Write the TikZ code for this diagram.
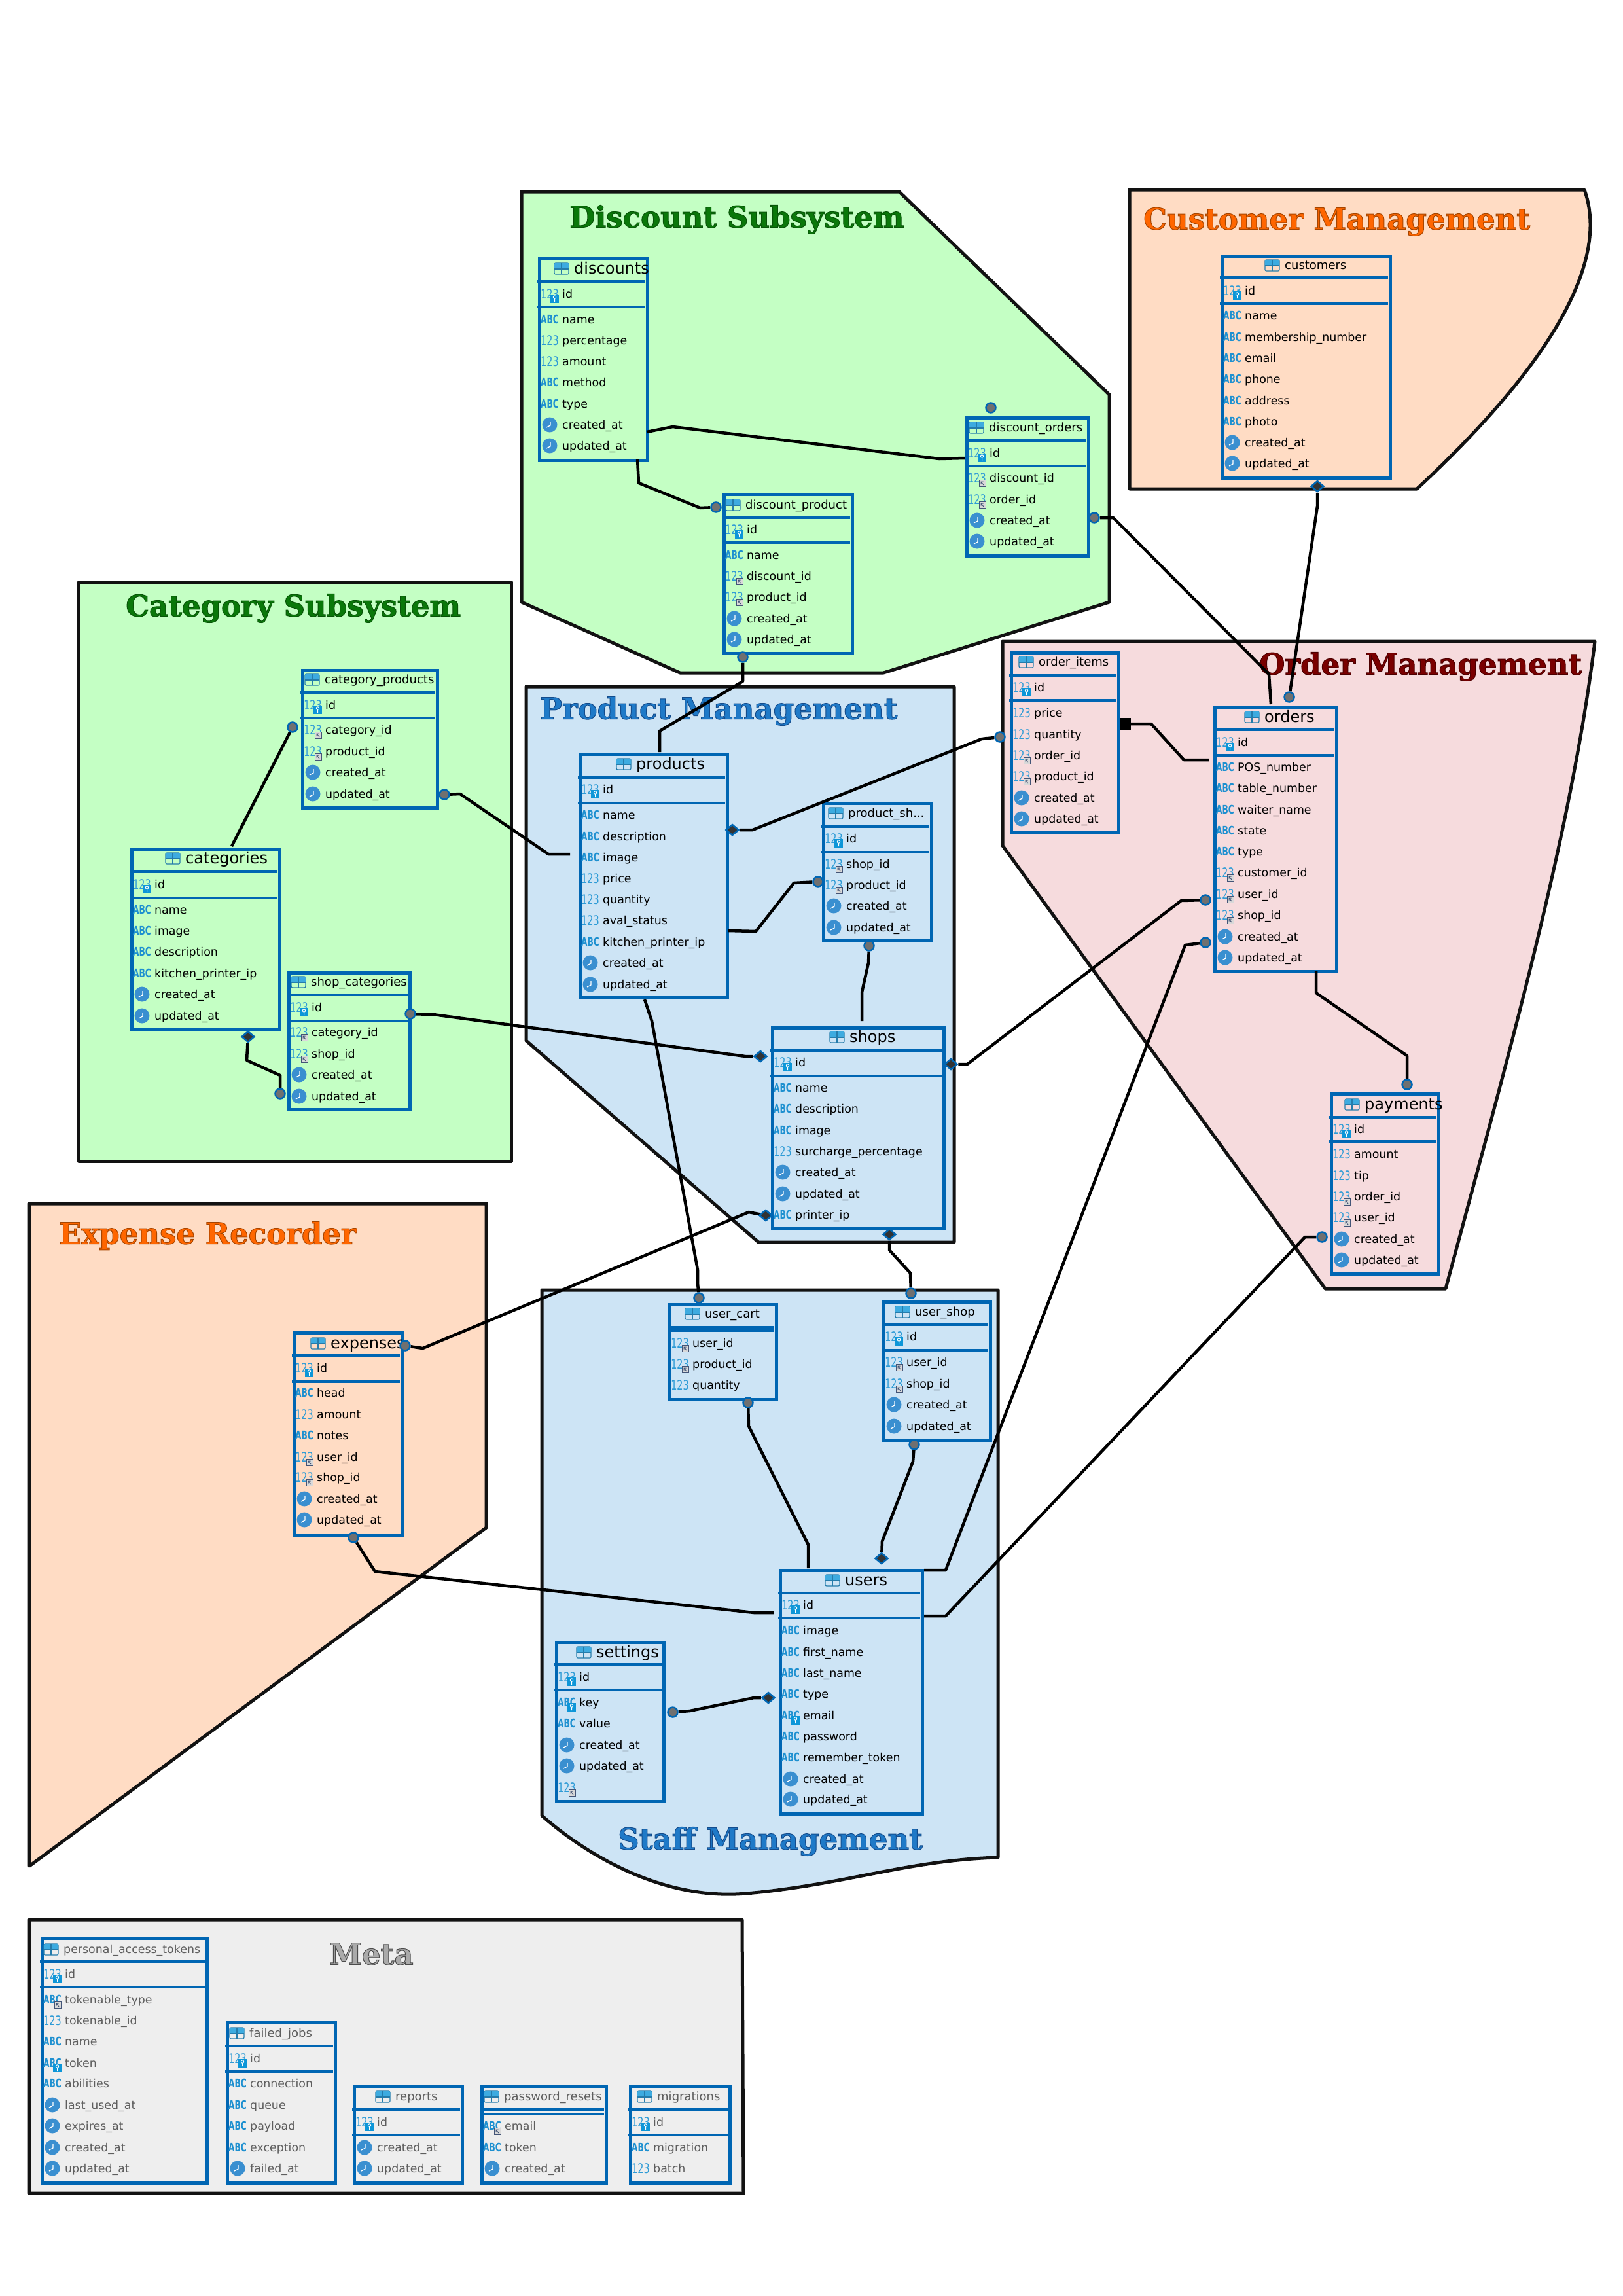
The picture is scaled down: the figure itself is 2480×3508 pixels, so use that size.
\documentclass[tikz,border=0pt]{standalone}
\usepackage{fontspec}
\usepackage{graphicx}
\usetikzlibrary{shapes.geometric}
\setmainfont{DejaVu Sans}
\newfontfamily\ttlfont{DejaVu Serif}
\pgfdeclarelayer{dots}
\pgfsetlayers{main,dots}
\definecolor{grnfill}{HTML}{C4FFC4}
\definecolor{grntxt}{HTML}{0A780A}
\definecolor{orgfill}{HTML}{FFDCC4}
\definecolor{orgtxt}{HTML}{FF6600}
\definecolor{blufill}{HTML}{CDE4F5}
\definecolor{blutxt}{HTML}{1F7AC8}
\definecolor{pnkfill}{HTML}{F6DBDD}
\definecolor{pnktxt}{HTML}{7A0000}
\definecolor{gryfill}{HTML}{EEEEEE}
\definecolor{grytxt}{HTML}{AAAAAA}
\definecolor{tblblue}{HTML}{0066B3}
\definecolor{numblue}{HTML}{2E9BD6}
\definecolor{abcblue}{HTML}{1E90D0}
\definecolor{clkblue}{HTML}{3A8FD0}
\definecolor{keyblue}{HTML}{0D96D8}
\definecolor{dotgray}{HTML}{707070}
\definecolor{metatext}{HTML}{5E5E5E}
\definecolor{fkline}{HTML}{445577}
\tikzset{
  grp/.style={draw=black!93,line width=5pt,line join=round},
  ttl/.style={anchor=base west,inner sep=0pt,yshift=1.5pt,font=\ttlfont\bfseries\fontsize{45}{45}\selectfont},
  tbl/.style={draw=tblblue,line width=5pt,inner sep=0pt,rectangle},
  tbldiv/.style={draw=tblblue,line width=4pt},
  rowtext/.style={anchor=base west,inner sep=0pt,font=\fontsize{17.4}{18}\selectfont},
  numico/.style={anchor=base,inner sep=0pt,text=numblue,font=\fontsize{20}{20}\selectfont},
  abcico/.style={anchor=base,inner sep=0pt,text=abcblue,font=\bfseries\fontsize{18}{18}\selectfont},
  conn/.style={draw=black,line width=4.5pt,line join=round},
  cdot/.style={circle,fill=dotgray,draw=tblblue,line width=2.5pt,minimum size=15pt,inner sep=0pt},
  ddot/.style={diamond,fill=black!80,draw=tblblue,line width=2.5pt,minimum width=20pt,minimum height=17pt,inner sep=0pt},
  sdot/.style={rectangle,fill=black,minimum width=16pt,minimum height=18pt,inner sep=0pt},
}
\newcommand{\otext}[2]{\special{pdf:code 2 Tr 1 w #1 RG}#2}
\newcommand{\dbtbl}[7]{% name,x1,x2,y1,y2,d1,d2
  \node[tbl,minimum width={#3-#2-2},minimum height={#5-#4-2},anchor=north west,name=#1] at (#2+1,#4+0.5) {};
  \draw[tbldiv] (#2,#6) -- (#3-2,#6);
  \draw[tbldiv] (#2,#7) -- (#3-2,#7);
}
\newcommand{\dbtitle}[5]{% name,textx,y,size,text
  \draw[draw=numblue!80!black,line width=1.2pt,rounded corners=2pt] (#2-30,#3-8) rectangle (#2-8,#3+9);
  \fill[keyblue!80!white,rounded corners=1pt] (#2-30,#3-8) rectangle (#2-8,#3+1);
  \draw[numblue!80!black,line width=1.2pt] (#2-30,#3+1) -- (#2-8,#3+1) (#2-19,#3-8) -- (#2-19,#3+9);
  \node[rowtext,font=\fontsize{#4}{#4}\selectfont,name=#1-title] at (#2,#3+0.36*#4) {#5};
}
\newcommand{\numicon}[3]{\node[numico,name=#3] at (#1+19,#2+7) {\scalebox{.72}[1]{123}};}
\newcommand{\iabc}[3]{\node[abcico,name=#3] at (#1+19,#2+6.5) {\scalebox{.68}[1]{ABC}};}
\newcommand{\kmark}[2]{%
  \fill[keyblue] (#1+20,#2+1) rectangle (#1+33,#2+14);
  \draw[white,line width=1pt] (#1+26.5,#2+5) circle (2.2) (#1+26.5,#2+7) -- (#1+26.5,#2+12);
}
\newcommand{\fmark}[2]{%
  \fill[white!85!black,draw=fkline,line width=1pt] (#1+22,#2+3) rectangle (#1+32,#2+13);
  \draw[fkline,line width=1pt] (#1+25,#2+6) -- (#1+29,#2+11) (#1+25,#2+9.5) -- (#1+25,#2+6) -- (#1+28.5,#2+6);
}
\newcommand{\icok}[3]{\numicon{#1}{#2}{#3}\kmark{#1}{#2}}
\newcommand{\icof}[3]{\numicon{#1}{#2}{#3}\fmark{#1}{#2}}
\newcommand{\icoAk}[3]{\iabc{#1}{#2}{#3}\kmark{#1}{#2}}
\newcommand{\icoAf}[3]{\iabc{#1}{#2}{#3}\fmark{#1}{#2}}
\newcommand{\icoc}[3]{%
  \fill[clkblue] (#1+19,#2) circle (11.5);
  \draw[white,line width=1.2pt] (#1+20,#2-5) -- (#1+20,#2+1) -- (#1+14,#2+4);
}
\def\tpk{k}\def\tpf{f}\def\tpn{n}\def\tpa{a}\def\tpc{c}\def\tpA{A}\def\tpF{F}
\newcommand{\rows}[3]{%
  \foreach \yy/\tp/\lb [count=\nn] in {#3} {
    \ifx\tp\tpk\icok{#2}{\yy}{#1-i\nn}\fi
    \ifx\tp\tpf\icof{#2}{\yy}{#1-i\nn}\fi
    \ifx\tp\tpn\numicon{#2}{\yy}{#1-i\nn}\fi
    \ifx\tp\tpa\iabc{#2}{\yy}{#1-i\nn}\fi
    \ifx\tp\tpc\icoc{#2}{\yy}{#1-i\nn}\fi
    \ifx\tp\tpA\icoAk{#2}{\yy}{#1-i\nn}\fi
    \ifx\tp\tpF\icoAf{#2}{\yy}{#1-i\nn}\fi
    \node[rowtext,name=#1-t\nn] at (#2+38,\yy+6.5) {\lb};
  }%
}
\newcommand{\crt}{created\_at}
\newcommand{\upd}{updated\_at}
\begin{document}
\begin{tikzpicture}[x=1pt,y=-1pt]
\useasboundingbox (0,0) rectangle (2480,3508);
\fill[white] (0,0) rectangle (2480,3508);
% groups
\draw[grp,fill=grnfill] (797,293) -- (1374,293) -- (1695,603) -- (1695,920) -- (1350,1028) -- (1039,1028) -- (797,920) -- cycle;
\draw[grp,fill=orgfill] (1726,290) -- (2421,290) .. controls (2450,370) and (2420,510) .. (2165,747) -- (1726,747) -- cycle;
\draw[grp,fill=grnfill] (120,889) rectangle (781,1774);
\draw[grp,fill=blufill] (804,1049) -- (1458,1049) -- (1458,1898) -- (1159,1898) -- (804,1590) -- cycle;
\draw[grp,fill=pnkfill] (1532,980) -- (2437,980) .. controls (2400,1280) and (2300,1630) .. (2209,1969) -- (2025,1969) -- (1532,1292) -- cycle;
\draw[grp,fill=orgfill] (45,1839) -- (743,1839) -- (743,2334) -- (45,2851) -- cycle;
\draw[grp,fill=blufill] (828,1971) -- (1525,1971) -- (1525,2838) .. controls (1387,2842) and (1290,2880) .. (1140,2893) .. controls (1000,2905) and (880,2820) .. (828,2774) -- cycle;
\draw[grp,fill=gryfill] (45,2933) -- (1134,2933) -- (1136,3351) -- (45,3351) -- cycle;
% group titles
\node[ttl,text=grntxt,name=gtDiscount] at (870,349) {\otext{0.03 0.33 0.03}{Discount Subsystem}};
\node[ttl,text=orgtxt,name=gtCustomer] at (1747,352) {\otext{0.65 0.27 0}{Customer Management}};
\node[ttl,text=grntxt,name=gtCategory] at (192,943) {\otext{0.03 0.33 0.03}{Category Subsystem}};
\node[ttl,text=blutxt,name=gtProduct] at (825,1100) {\otext{0.08 0.3 0.55}{Product Management}};
\node[ttl,text=pnktxt,name=gtOrder] at (1924,1032) {\otext{0.3 0 0}{Order Management}};
\node[ttl,text=orgtxt,name=gtExpense] at (90,1902) {\otext{0.65 0.27 0}{Expense Recorder}};
\node[ttl,text=blutxt,name=gtStaff] at (944,2827) {\otext{0.08 0.3 0.55}{Staff Management}};
\node[ttl,text=grytxt,name=gtMeta] at (503,3003) {\otext{0.3 0.3 0.3}{Meta}};
% tables
\dbtbl{discounts}{821}{988}{392}{702}{430}{469}
\dbtitle{discounts}{877}{410}{24}{discounts}
\rows{discounts}{821}{449/k/id,488/a/name,520/n/percentage,552/n/amount,584/a/method,617/a/type,649/c/\crt,681/c/\upd}
\dbtbl{dorders}{1474}{1662}{635}{848}{673}{712}
\dbtitle{dorders}{1511}{653}{18}{discount\_orders}
\rows{dorders}{1474}{692/k/id,730/f/discount\_id,763/f/order\_id,795/c/\crt,827/c/\upd}
\dbtbl{dproduct}{1103}{1301}{752}{997}{791}{829}
\dbtitle{dproduct}{1139}{771}{18}{discount\_product}
\rows{dproduct}{1103}{809/k/id,848/a/name,880/f/discount\_id,912/f/product\_id,945/c/\crt,977/c/\upd}
\dbtbl{customers}{1864}{2123}{388}{729}{424}{464}
\dbtitle{customers}{1963}{405}{18}{customers}
\rows{customers}{1864}{444/k/id,482/a/name,515/a/membership\_number,547/a/email,579/a/phone,612/a/address,644/a/photo,676/c/\crt,708/c/\upd}
\dbtbl{catprod}{459}{667}{1021}{1233}{1058}{1097}
\dbtitle{catprod}{496}{1038}{18}{category\_products}
\rows{catprod}{459}{1077/k/id,1115/f/category\_id,1148/f/product\_id,1180/c/\crt,1213/c/\upd}
\dbtbl{categories}{198}{426}{1294}{1572}{1332}{1372}
\dbtitle{categories}{283}{1311}{24}{categories}
\rows{categories}{198}{1351/k/id,1390/a/name,1422/a/image,1454/a/description,1487/a/kitchen\_printer\_ip,1519/c/\crt,1552/c/\upd}
\dbtbl{shopcat}{438}{625}{1483}{1694}{1520}{1560}
\dbtitle{shopcat}{475}{1500}{18}{shop\_categories}
\rows{shopcat}{438}{1539/k/id,1577/f/category\_id,1610/f/shop\_id,1642/c/\crt,1675/c/\upd}
\dbtbl{products}{883}{1110}{1149}{1523}{1188}{1227}
\dbtitle{products}{972}{1167}{24}{products}
\rows{products}{883}{1206/k/id,1245/a/name,1278/a/description,1310/a/image,1342/n/price,1374/n/quantity,1406/n/aval\_status,1439/a/kitchen\_printer\_ip,1471/c/\crt,1504/c/\upd}
\dbtbl{prodshop}{1255}{1422}{1224}{1435}{1263}{1302}
\dbtitle{prodshop}{1296}{1242}{18}{product\_sh...}
\rows{prodshop}{1255}{1281/k/id,1320/f/shop\_id,1352/f/product\_id,1384/c/\crt,1417/c/\upd}
\dbtbl{shops}{1177}{1441}{1567}{1876}{1605}{1644}
\dbtitle{shops}{1298}{1584}{24}{shops}
\rows{shops}{1177}{1623/k/id,1662/a/name,1694/a/description,1727/a/image,1759/n/surcharge\_percentage,1791/c/\crt,1824/c/\upd,1856/a/printer\_ip}
\dbtbl{orderitems}{1542}{1708}{994}{1271}{1032}{1070}
\dbtitle{orderitems}{1587}{1011}{18}{order\_items}
\rows{orderitems}{1542}{1050/k/id,1089/n/price,1122/n/quantity,1154/f/order\_id,1186/f/product\_id,1219/c/\crt,1251/c/\upd}
\dbtbl{orders}{1853}{2041}{1078}{1483}{1115}{1154}
\dbtitle{orders}{1932}{1095}{24}{orders}
\rows{orders}{1853}{1134/k/id,1172/a/POS\_number,1204/a/table\_number,1237/a/waiter\_name,1269/a/state,1301/a/type,1333/f/customer\_id,1366/f/user\_id,1398/f/shop\_id,1431/c/\crt,1463/c/\upd}
\dbtbl{payments}{2031}{2197}{1668}{1945}{1707}{1744}
\dbtitle{payments}{2085}{1687}{24}{payments}
\rows{payments}{2031}{1725/k/id,1763/n/amount,1796/n/tip,1828/f/order\_id,1860/f/user\_id,1893/c/\crt,1925/c/\upd}
\dbtbl{usercart}{1020}{1185}{1990}{2137}{2028}{2033}
\dbtitle{usercart}{1077}{2007}{18}{user\_cart}
\rows{usercart}{1020}{2052/f/user\_id,2084/f/product\_id,2116/n/quantity}
\dbtbl{usershop}{1347}{1512}{1986}{2199}{2024}{2063}
\dbtitle{usershop}{1398}{2004}{18}{user\_shop}
\rows{usershop}{1347}{2042/k/id,2081/f/user\_id,2114/f/shop\_id,2146/c/\crt,2179/c/\upd}
\dbtbl{users}{1189}{1408}{2396}{2770}{2434}{2472}
\dbtitle{users}{1291}{2414}{24}{users}
\rows{users}{1189}{2452/k/id,2491/a/image,2524/a/first\_name,2556/a/last\_name,2588/a/type,2621/A/email,2653/a/password,2685/a/remember\_token,2718/c/\crt,2749/c/\upd}
\dbtbl{settings}{847}{1013}{2506}{2751}{2543}{2582}
\dbtitle{settings}{911}{2524}{24}{settings}
\rows{settings}{847}{2562/k/id,2601/A/key,2633/a/value,2666/c/\crt,2698/c/\upd,2731/f/{}}
\dbtbl{expenses}{446}{613}{2033}{2344}{2071}{2111}
\dbtitle{expenses}{505}{2052}{24}{expenses}
\rows{expenses}{446}{2090/k/id,2128/a/head,2161/n/amount,2193/a/notes,2226/f/user\_id,2257/f/shop\_id,2290/c/\crt,2322/c/\upd}
% meta tables
\begin{scope}[rowtext/.append style={text=metatext}]
\dbtbl{pat}{61}{315}{2958}{3334}{2997}{3036}
\dbtitle{pat}{97}{2978}{17.4}{personal\_access\_tokens}
\rows{pat}{61}{3016/k/id,3055/F/tokenable\_type,3087/n/tokenable\_id,3119/a/name,3152/A/token,3183/a/abilities,3216/c/last\_used\_at,3248/c/expires\_at,3281/c/\crt,3313/c/\upd}
\dbtbl{failedjobs}{344}{511}{3087}{3334}{3126}{3165}
\dbtitle{failedjobs}{381}{3106}{18}{failed\_jobs}
\rows{failedjobs}{344}{3145/k/id,3183/a/connection,3216/a/queue,3248/a/payload,3281/a/exception,3313/c/failed\_at}
\dbtbl{reports}{538}{705}{3184}{3334}{3223}{3262}
\dbtitle{reports}{604}{3203}{18}{reports}
\rows{reports}{538}{3242/k/id,3281/c/\crt,3313/c/\upd}
\dbtbl{pwresets}{733}{925}{3184}{3334}{3223}{3230}
\dbtitle{pwresets}{770}{3203}{18}{password\_resets}
\rows{pwresets}{733}{3248/F/email,3281/a/token,3313/c/\crt}
\dbtbl{migrations}{960}{1114}{3184}{3334}{3223}{3262}
\dbtitle{migrations}{1004}{3203}{18}{migrations}
\rows{migrations}{960}{3242/k/id,3281/a/migration,3313/n/batch}
\end{scope}
% connector ends
\begin{pgfonlayer}{dots}
\node[cdot] (doT) at (1514,623) {};
\node[cdot] (doR) at (1672,791) {};
\node[cdot] (dpL) at (1094,775) {};
\node[cdot] (dpB) at (1135,1004) {};
\node[ddot] (cuB) at (2013,743) {};
\node[cdot] (orT) at (1970,1065) {};
\node[cdot] (cpL) at (447,1111) {};
\node[cdot] (cpR) at (679,1214) {};
\node[ddot] (caB) at (379,1584) {};
\node[cdot] (scL) at (428,1671) {};
\node[cdot] (scR) at (627,1549) {};
\node[ddot] (shL) at (1162,1614) {};
\node[ddot] (prR) at (1119,1268) {};
\node[cdot] (oiL) at (1528,1126) {};
\node[cdot] (psL) at (1250,1347) {};
\node[cdot] (psB) at (1328,1445) {};
\node[ddot] (shR) at (1453,1626) {};
\node[cdot] (orL) at (1842,1375) {};
\node[ddot] (shP) at (1170,1857) {};
\node[cdot] (exR) at (619,2056) {};
\node[ddot] (shB) at (1359,1886) {};
\node[cdot] (usT) at (1392,1976) {};
\node[cdot] (ucT) at (1068,1983) {};
\node[sdot] (oiR) at (1720,1106) {};
\node[cdot] (orM) at (1842,1440) {};
\node[cdot] (paT) at (2150,1657) {};
\node[cdot] (paL) at (2020,1890) {};
\node[cdot] (ucB) at (1143,2143) {};
\node[cdot] (usB) at (1397,2207) {};
\node[ddot] (urT) at (1347,2381) {};
\node[cdot] (seR) at (1028,2616) {};
\node[ddot] (urL) at (1174,2594) {};
\node[cdot] (exB) at (540,2349) {};
\end{pgfonlayer}
% free ends
\coordinate (f1) at (988,660);
\coordinate (f2) at (1474,700);
\coordinate (f3) at (974,702);
\coordinate (f4) at (1008,1149);
\coordinate (f5) at (1942,1076);
\coordinate (f6) at (354,1293);
\coordinate (f7) at (871,1305);
\coordinate (f8) at (1113,1422);
\coordinate (f9) at (1317,1560);
\coordinate (f10) at (985,1527);
\coordinate (f11) at (1847,1161);
\coordinate (f12) at (1412,2399);
\coordinate (f13) at (2011,1484);
\coordinate (f14) at (1412,2469);
\coordinate (f15) at (1235,2396);
\coordinate (f16) at (1182,2464);
% connectors
\draw[conn] (f1) -- (1028,652) -- (1435,701) -- (f2);
\draw[conn] (f3) -- (976,738) -- (1070,776) -- (dpL);
\draw[conn] (dpB) -- (1135,1041) -- (1008,1117) -- (f4);
\draw[conn] (doR) -- (1701,791) -- (1924,1015) -- (1939,1030) -- (f5);
\draw[conn] (cuB) -- (2013,773) -- (orT);
\draw[conn] (cpL) -- (f6);
\draw[conn] (caB) -- (377,1620) -- (428,1643) -- (scL);
\draw[conn] (cpR) -- (703,1213) -- (838,1305) -- (f7);
\draw[conn] (scR) -- (662,1550) -- (1139,1614) -- (shL);
\draw[conn] (prR) -- (1150,1268) -- (1500,1129) -- (oiL);
\draw[conn] (f8) -- (1155,1423) -- (1213,1349) -- (psL);
\draw[conn] (psB) -- (1327,1471) -- (1317,1516) -- (f9);
\draw[conn] (shR) -- (1478,1626) -- (1805,1376) -- (orL);
\draw[conn] (shP) -- (1144,1852) -- (646,2060) -- (exR);
\draw[conn] (shB) -- (1359,1910) -- (1391,1945) -- (usT);
\draw[conn] (f10) -- (996,1560) -- (1066,1940) -- (1066,1960) -- (ucT);
\draw[conn] (oiR) -- (1759,1106) -- (1809,1161) -- (f11);
\draw[conn] (orM) -- (1811,1444) -- (1445,2399) -- (f12);
\draw[conn] (f13) -- (2011,1517) -- (2150,1613) -- (paT);
\draw[conn] (paL) -- (1994,1890) -- (1445,2469) -- (f14);
\draw[conn] (ucB) -- (1144,2179) -- (1235,2360) -- (f15);
\draw[conn] (usB) -- (1395,2233) -- (1348,2355) -- (urT);
\draw[conn] (seR) -- (1054,2614) -- (1152,2594) -- (urL);
\draw[conn] (exB) -- (573,2401) -- (1152,2464) -- (f16);
\end{tikzpicture}
\end{document}
